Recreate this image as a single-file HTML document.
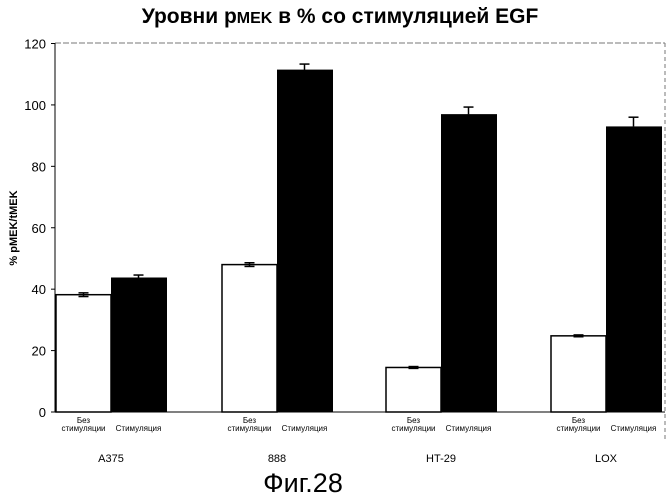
<!DOCTYPE html>
<html><head><meta charset="utf-8"><style>
body{margin:0;background:#fff}
svg{display:block;font-family:"Liberation Sans",sans-serif}
</style></head><body>
<svg id="chart" width="667" height="500" viewBox="0 0 667 500">
<text x="340" y="23" text-anchor="middle" font-size="21" font-weight="bold">Уровни р<tspan font-size="16">MEK</tspan>  в % со стимуляцией EGF</text>
<text transform="translate(17,228) rotate(-90)" text-anchor="middle" font-size="11" font-weight="bold">% pMEK/tMEK</text>
<line x1="55" y1="43" x2="665" y2="43" stroke="#777" stroke-dasharray="6,2"/>
<line x1="665" y1="43" x2="665" y2="440" stroke="#777" stroke-dasharray="4,3"/>
<g id="grid"></g><g id="bars"></g><g id="ticks"></g>
<line x1="55" y1="43" x2="55" y2="412" stroke="#000"/>
<line x1="55" y1="412" x2="665" y2="412" stroke="#000"/>
<text x="303" y="492" text-anchor="middle" font-size="27">Фиг.28</text>
</svg>
<script>
const categories=["A375","888","HT-29","LOX"];
const unstimValues=[38.2,48,14.5,24.8];
const stimValues=[43.8,111.5,97,93];
const unstimErr=[0.6,0.6,0.3,0.3];
const stimErr=[0.8,1.8,2.3,3];
const yTicks=[0,20,40,60,80,100,120];
const NS="http://www.w3.org/2000/svg";
const y0=412,yTop=43.5,yMax=120;
function yScale(v){return y0-(v/yMax)*(y0-yTop);}
const groupStart=[56,222,386,551];
const barW=55;
function xScale(i){return groupStart[i];}
function mk(tag,attrs,parent){const e=document.createElementNS(NS,tag);for(const k in attrs)e.setAttribute(k,attrs[k]);parent.appendChild(e);return e;}
const gT=document.getElementById('ticks'),gB=document.getElementById('bars'),gG=document.getElementById('grid');
yTicks.forEach(t=>{
 const y=yScale(t);
 const l=mk('line',{x1:51,x2:55,y1:y,y2:y,stroke:'#000'},gT);
 
 
 const tx=mk('text',{x:46,y:y+5,'text-anchor':'end','font-size':13},gT);
 
 
 tx.textContent=t;
});
function errBar(x,v,e,col){
 const g=mk('g',{stroke:col,'stroke-width':1.5},gB);
 
 
 mk('line',{x1:x,x2:x,y1:yScale(v+e),y2:yScale(v)},g);
 mk('line',{x1:x-5,x2:x+5,y1:yScale(v+e),y2:yScale(v+e)},g);
 if(col==='#000'){mk('line',{x1:x-5,x2:x+5,y1:yScale(v-e),y2:yScale(v-e)},g);mk('line',{x1:x,x2:x,y1:yScale(v),y2:yScale(v-e)},g);}
}
categories.forEach((c,i)=>{
 const x=xScale(i);
 const r1=mk('rect',{x:x,y:yScale(unstimValues[i]),width:barW,height:y0-yScale(unstimValues[i]),fill:'#fff',stroke:'#000','stroke-width':1.5},gB);
 
 
 errBar(x+barW/2,unstimValues[i],unstimErr[i],'#000');
 const r2=mk('rect',{x:x+barW,y:yScale(stimValues[i]),width:barW+1,height:y0-yScale(stimValues[i]),fill:'#000'},gB);
 
 
 errBar(x+barW*1.5,stimValues[i],stimErr[i],'#000');
 const a=mk('text',{x:x+barW/2,y:423,'text-anchor':'middle','font-size':8},gB);
 
 
 a.textContent='Без';
 const b=mk('text',{x:x+barW/2,y:431,'text-anchor':'middle','font-size':8},gB);
 
 
 b.textContent='стимуляции';
 const s=mk('text',{x:x+barW*1.5,y:431,'text-anchor':'middle','font-size':8},gB);
 
 
 s.textContent='Стимуляция';
 const cl=mk('text',{x:x+barW,y:462,'text-anchor':'middle','font-size':11},gB);
 
 
 cl.textContent=c;
});
</script>
</body></html>
